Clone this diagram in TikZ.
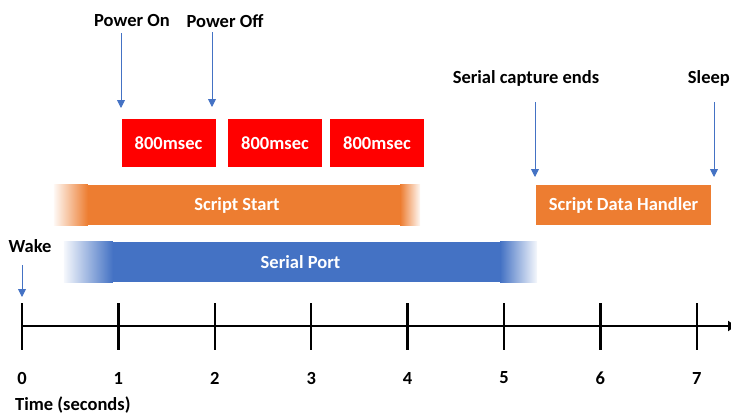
\documentclass[tikz,border=0pt]{standalone}
\usepackage{fontspec}
\setmainfont{Carlito}
\usetikzlibrary{arrows.meta,backgrounds}
\definecolor{sOrange}{HTML}{ED7D31}
\definecolor{sBlue}{HTML}{4472C4}
\definecolor{sRed}{HTML}{FF0000}
\tikzset{
  lbl/.style={font=\fontsize{18.5}{20}\selectfont\bfseries, inner sep=0pt},
  redbox/.style={fill=sRed, text=white, lbl, minimum width=94, minimum height=48},
  bar/.style={text=white, lbl, minimum height=40},
  evt/.style={sBlue, line width=0.9pt, -{Triangle[width=8pt,length=8pt]}},
  tick/.style={line width=2.5pt}
}
\begin{document}
\begin{tikzpicture}[x=1pt,y=-1pt]
            \useasboundingbox (0,0) rectangle (731,415);
            \def\tx{22}
            \def\du{96.4}
            \def\ay{326}
            % time axis
            \coordinate (t0) at (\tx,\ay);
            \coordinate (tend) at (736,\ay);
            \draw[line width=2.5pt,-{Triangle[width=10pt,length=8pt]}] (t0) -- (tend);
            \foreach \i in {0,...,7}{
              \draw[tick] (\tx+\du*\i,303) -- (\tx+\du*\i,350);
              \node[lbl] (n\i) at (\tx+\du*\i,378) {\i};
            }
            \node[lbl, anchor=west] (tlab) at (15,405) {Time (seconds)};
            % 800msec boxes
            \node[redbox] (r1) at (168.5,143) {800msec};
            \node[redbox] (r2) at (275,143) {800msec};
            \node[redbox] (r3) at (377,143) {800msec};
            % bars
            \node[bar, minimum width=366] (start) at (237,205) {Script Start};
            \node[bar, minimum width=473] (serial) at (300.5,262) {Serial Port};
            \node[bar, fill=sOrange, minimum width=175] (handler) at (623.5,205) {Script Data Handler};
            \begin{scope}[on background layer]
              \fill[sOrange] ([xshift=32]start.south west) rectangle ([xshift=-18]start.north east);
              \shade[left color=sOrange!5, right color=sOrange] (start.south west) rectangle ([xshift=34]start.north west);
              \shade[left color=sOrange, right color=sOrange!5] ([xshift=-20]start.south east) rectangle (start.north east);
              \fill[sBlue] ([xshift=47]serial.south west) rectangle ([xshift=-35]serial.north east);
              \shade[left color=sBlue!5, right color=sBlue] (serial.south west) rectangle ([xshift=49]serial.north west);
              \shade[left color=sBlue, right color=sBlue!5] ([xshift=-37]serial.south east) rectangle (serial.north east);
            \end{scope}
            % events
            \node[lbl] (on) at (132,21) {Power On};
            \node[lbl] (off) at (225,21) {Power Off};
            \node[lbl] (cap) at (526,78) {Serial capture ends};
            \node[lbl, anchor=east] (sleep) at (730,78) {Sleep};
            \node[lbl] (wake) at (30,246) {Wake};
            \coordinate (on1) at (121,33);  \coordinate (on2) at (121,108);
            \coordinate (off1) at (212,32); \coordinate (off2) at (212,107);
            \coordinate (cap1) at (535,102); \coordinate (cap2) at (535,177);
            \coordinate (sl1) at (714,102); \coordinate (sl2) at (714,177);
            \coordinate (wk1) at (22,265); \coordinate (wk2) at (22,297);
            \draw[evt] (on1) -- (on2);
            \draw[evt] (off1) -- (off2);
            \draw[evt] (cap1) -- (cap2);
            \draw[evt] (sl1) -- (sl2);
            \draw[evt] (wk1) -- (wk2);
\end{tikzpicture}
\end{document}
